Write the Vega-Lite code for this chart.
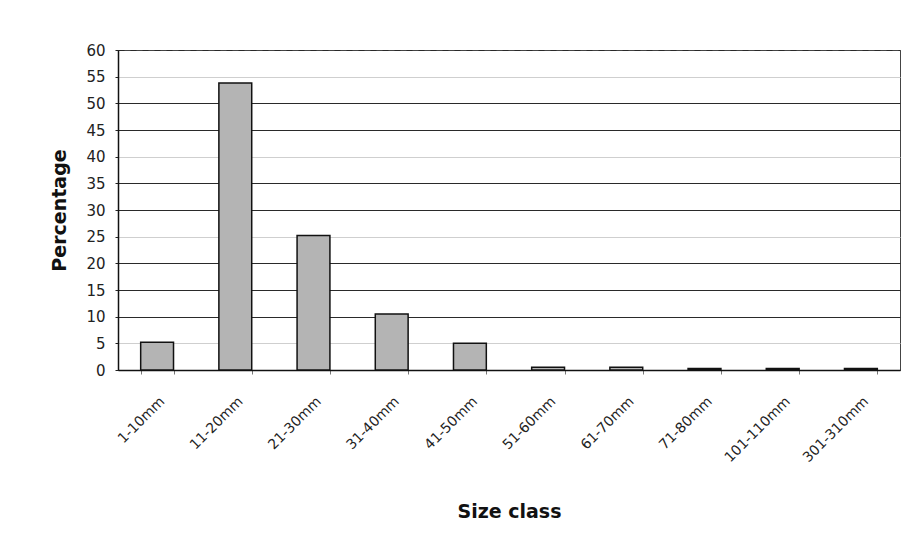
{
  "$schema": "https://vega.github.io/schema/vega-lite/v6.json",
  "width": 782,
  "height": 320,
  "autosize": {"type": "none"},
  "padding": {"left": 118, "top": 50, "right": 8, "bottom": 182},
  "background": "white",
  "config": {
    "view": {"stroke": "#444", "strokeWidth": 1},
    "font": "DejaVu Sans"
  },
  "data": {
    "values": [
      {"size": "1-10mm", "pct": 5.2},
      {"size": "11-20mm", "pct": 53.8},
      {"size": "21-30mm", "pct": 25.2},
      {"size": "31-40mm", "pct": 10.5},
      {"size": "41-50mm", "pct": 5.0},
      {"size": "51-60mm", "pct": 0.5},
      {"size": "61-70mm", "pct": 0.5},
      {"size": "71-80mm", "pct": 0.3},
      {"size": "101-110mm", "pct": 0.3},
      {"size": "301-310mm", "pct": 0.3}
    ]
  },
  "mark": {"type": "bar", "fill": "#b4b4b4", "stroke": "#111", "strokeWidth": 1.5},
  "encoding": {
    "x": {
      "field": "size",
      "type": "nominal",
      "sort": null,
      "scale": {"paddingInner": 0.58, "paddingOuter": 0.29},
      "axis": {
        "title": "Size class",
        "titleFont": "DejaVu Sans",
        "titleFontSize": 19,
        "titleFontWeight": "bold",
        "titleColor": "#111",
        "titlePadding": 38,
        "labelAngle": -45,
        "labelFont": "DejaVu Sans",
        "labelFontSize": 14,
        "labelColor": "#222",
        "labelPadding": 20,
        "tickBand": "extent",
        "tickSize": 4,
        "tickColor": "#777",
        "domainColor": "#111",
        "domainWidth": 1.5,
        "grid": false
      }
    },
    "y": {
      "field": "pct",
      "type": "quantitative",
      "scale": {"domain": [0, 60], "nice": false},
      "axis": {
        "title": "Percentage",
        "titleFont": "DejaVu Sans",
        "titleFontSize": 19,
        "titleFontWeight": "bold",
        "titleColor": "#111",
        "titlePadding": 16,
        "values": [0, 5, 10, 15, 20, 25, 30, 35, 40, 45, 50, 55, 60],
        "labelFont": "DejaVu Sans",
        "labelFontSize": 15,
        "labelColor": "#222",
        "labelPadding": 10,
        "tickSize": 3,
        "tickColor": "#222",
        "domainColor": "#111",
        "domainWidth": 1.5,
        "grid": true,
        "gridWidth": 1,
        "gridColor": {
          "condition": {"test": "datum.value == 55 || datum.value == 40 || datum.value == 25 || datum.value == 5", "value": "#cfcfcf"},
          "value": "#2a2a2a"
        },
        "gridDash": {
          "condition": {"test": "datum.value == 60", "value": [6, 6]},
          "value": []
        }
      }
    }
  }
}
